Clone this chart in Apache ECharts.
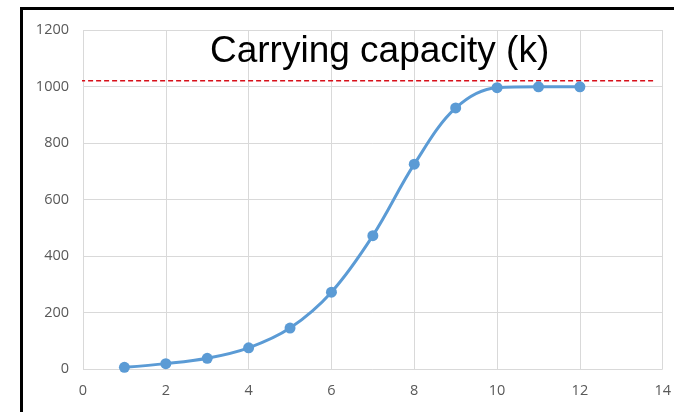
<!DOCTYPE html>
<html>
<head>
<meta charset="utf-8">
<script src="https://cdn.jsdelivr.net/npm/echarts@6/dist/echarts.min.js"></script>
<style>
html,body{margin:0;padding:0;background:#fff;}
#c{width:674px;height:412px;}
</style>
</head>
<body>
<div id="c"></div>
<script>
// Data
var timeSteps = [1, 2, 3, 4, 5, 6, 7, 8, 9, 10, 11, 12];
var population = [6, 19, 38, 75, 145, 272, 472, 725, 924, 996, 999, 999];
var carryingCapacity = 1020;
var kLineX = [-0.07, 13.77];
var titleText = 'Carrying capacity (k)';

var chart = echarts.init(document.getElementById('c'), null, {renderer: 'canvas'});
var labelStyle = {color: '#595959', fontSize: 14.5, fontFamily: 'Open Sans, Liberation Sans, sans-serif',
                  formatter: function (v) { return String(v); }};
chart.setOption({
  animation: false,
  backgroundColor: '#fff',
  grid: {left: 83, right: 10, top: 30, bottom: 43, containLabel: false},
  graphic: [
    {type: 'rect', shape: {x: 21.5, y: 8.5, width: 700, height: 500},
     style: {fill: 'none', stroke: '#000', lineWidth: 3}, z: 100},
    {type: 'text', left: 210, top: 33,
     style: {text: titleText, fill: '#000', font: '37px "Liberation Sans", Arial, sans-serif'}, z: 100}
  ],
  xAxis: {
    type: 'value', min: 0, max: 14, interval: 2,
    axisLine: {show: false},
    axisTick: {show: false},
    splitLine: {show: true, lineStyle: {color: '#d9d9d9', width: 1}},
    axisLabel: Object.assign({margin: 14}, labelStyle)
  },
  yAxis: {
    type: 'value', min: 0, max: 1200, interval: 200,
    axisLine: {show: false},
    axisTick: {show: false},
    splitLine: {show: true, lineStyle: {color: '#d9d9d9', width: 1}},
    axisLabel: Object.assign({margin: 14}, labelStyle)
  },
  series: [
    {
      type: 'line',
      data: timeSteps.map(function (t, i) { return [t, population[i]]; }),
      smooth: 0.35,
      symbol: 'circle',
      symbolSize: 11,
      lineStyle: {color: '#5b9bd5', width: 3},
      itemStyle: {color: '#5b9bd5'},
      z: 5
    },
    {
      type: 'line',
      data: kLineX.map(function (x) { return [x, carryingCapacity]; }),
      symbol: 'none',
      clip: false,
      lineStyle: {color: '#d8101a', width: 1.5, type: [5, 3]},
      z: 4
    }
  ]
});
</script>
</body>
</html>
